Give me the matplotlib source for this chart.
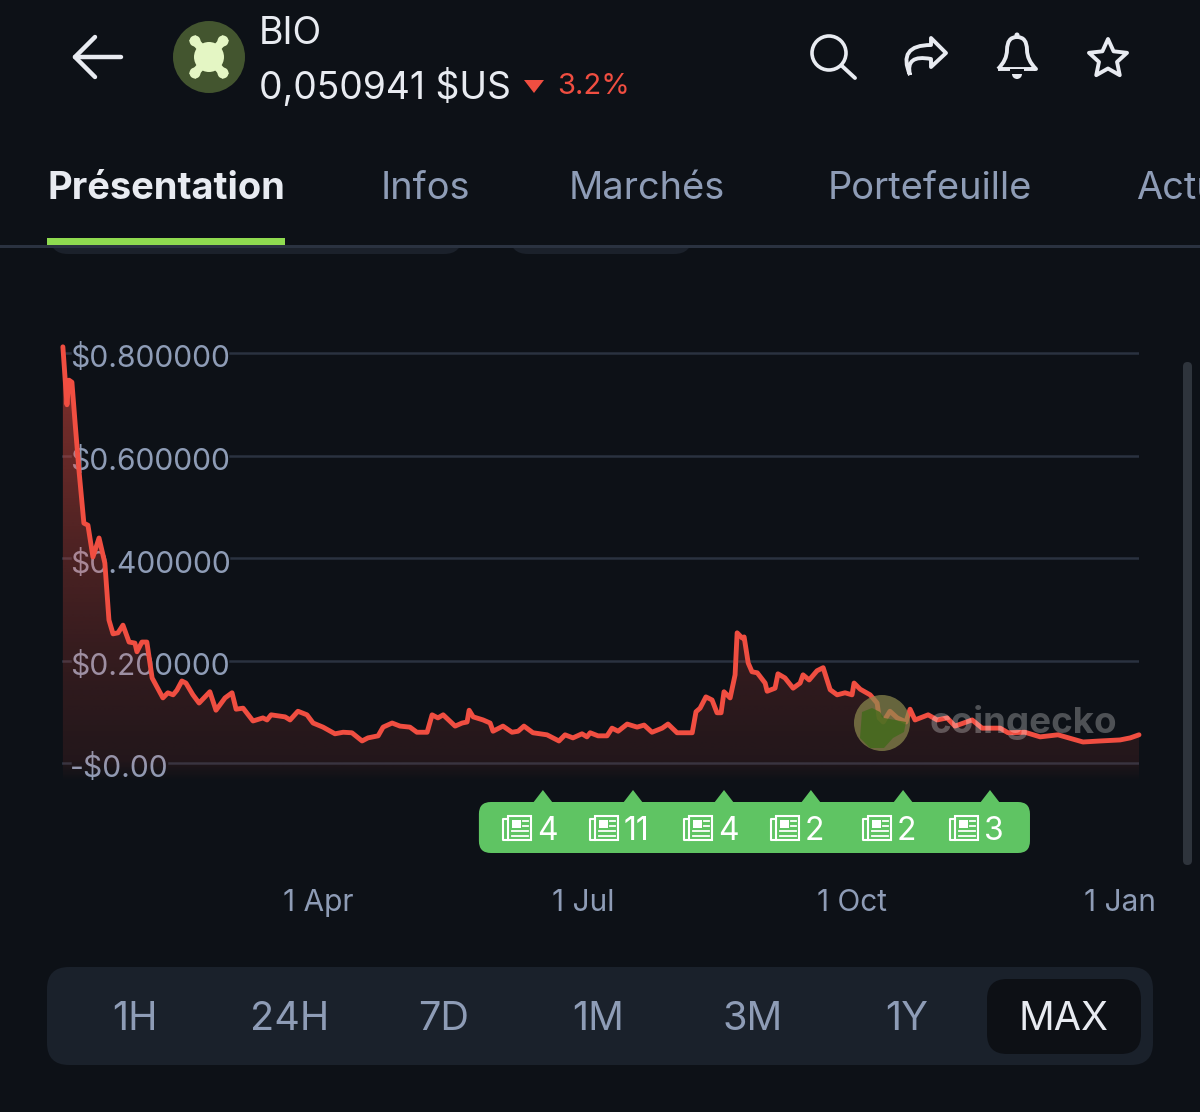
import math

import matplotlib
matplotlib.use("Agg")
import matplotlib.pyplot as plt
import numpy as np
from matplotlib.patches import Circle, FancyBboxPatch, PathPatch, Polygon, Rectangle
from matplotlib.path import Path
from matplotlib.transforms import Bbox, IdentityTransform, ScaledTranslation, TransformedBbox

plt.rcParams["font.family"] = ["Inter", "DejaVu Sans"]

# days since 1 Jan 2025
days = [2.5, 3.9, 4.6, 5.6, 6.7, 8.0, 9.7, 11.1, 12.8, 14.9, 16.9, 18.3, 19.7, 21.4, 23.1, 25.2, 27.2, 27.9,
        29.6, 31.3, 33.1, 34.8, 36.8, 38.5, 40.3, 41.6, 43.3, 44.7, 47.1, 49.2, 52.9, 55, 58.1, 60.5, 61.9,
        64.3, 67.7, 71.1, 72.5, 73.9, 78.7, 80.4, 83.1, 86.2, 88.3, 91.7, 95.8, 98.6, 101.6, 105.1, 107.1,
        110.6, 112.3, 115.4, 118.1, 121.5, 123.9, 127.4, 129.1, 131.1, 132.9, 137, 139.4, 141.1, 141.8,
        143.2, 146.6, 149, 150, 153.4, 156.5, 158.6, 160.6, 163.7, 168.5, 172.6, 174.7, 177.4, 180.5, 182.2,
        183.3, 186, 189.1, 190.8, 192.9, 196, 199.4, 201.8, 204.5, 208, 210, 213.1, 215.2, 218.3, 219.6,
        221, 223, 225.1, 226.8, 228.2, 229.2, 231.3, 233, 233.7, 235.4, 236.1, 237.5, 238.8, 240.6, 243.3,
        244, 246.7, 247.7, 250.1, 252.9, 255.3, 256.3, 258.4, 261.1, 263.2, 265.6, 268, 270.7, 273.1, 273.8,
        275.9, 279.3, 281.7, 282.4, 283.8, 286.1, 288.6, 291.6, 293, 294.7, 299.2, 302.3, 305.7, 308.4,
        314.3, 317.7, 323.9, 326.6, 332.4, 337.6, 343.7, 352.3, 358.2, 365, 368.5, 371.5]
prices = [.812, .699, .747, .743, .663, .572, .468, .464, .402, .439, .390, .279, .252, .254, .269, .236, .234, .217,
          .236, .236, .166, .148, .127, .137, .133, .142, .160, .156, .133, .117, .139, .103, .127, .137, .105,
          .107, .082, .088, .084, .094, .090, .084, .101, .094, .078, .070, .057, .060, .059, .043, .049,
          .053, .070, .078, .072, .070, .060, .060, .094, .088, .094, .072, .078, .080, .103,
          .090, .084, .078, .062, .072, .060, .062, .072, .059, .055, .043, .055, .049, .057, .051,
          .059, .053, .053, .068, .062, .076, .070, .074, .060, .068, .076, .059, .059, .059, .100,
          .107, .129, .123, .098, .098, .139, .127, .172, .254, .244, .246, .195, .178, .176, .156,
          .140, .146, .174, .166, .146, .156, .172, .162, .180, .186, .143, .133, .137, .133, .156,
          .144, .133, .117, .088, .080, .101, .088, .080, .105, .084, .094, .084, .088, .072,
          .084, .068, .068, .059, .060, .051, .055, .041, .043, .045, .049, .055]

y_ticks = [0, 0.2, 0.4, 0.6, 0.8]
y_labels = ["-$0.00", "$0.200000", "$0.400000", "$0.600000", "$0.800000"]
x_ticks = [90, 181, 273, 365]
x_labels = ["1 Apr", "1 Jul", "1 Oct", "1 Jan"]

news_days = [167.1, 198, 229.2, 259, 290.6, 320.4]
news_counts = ["4", "11", "4", "2", "2", "3"]

tabs = ["Présentation", "Infos", "Marchés", "Portefeuille", "Actu"]
tab_x = [47, 381, 569, 828, 1136]
ranges = ["1H", "24H", "7D", "1M", "3M", "1Y", "MAX"]
range_x = [135, 290, 444, 598, 753, 907, 1063]

BG = "#0d1117"
MUTED = "#8e9cb6"
WHITE = "#e8ebf1"
RED = "#f04e41"
GREEN = "#5fc463"
GRID = "#2a3240"

W, H = 1200, 1112
fig = plt.figure(figsize=(W / 100, H / 100), dpi=100, facecolor=BG)

# chart axes, 0 sits on pixel row 763 and 0.8 on row 353
top, bottom, left, right = 330, 790, 62, 1139
ax = fig.add_axes([left / W, 1 - bottom / H, (right - left) / W, (bottom - top) / H])
ax.set_facecolor("none")
ax.set_xlim(2.2, 371.5)
ax.set_ylim((763 - bottom) / 512.5, (763 - top) / 512.5)
for s in ax.spines.values():
    s.set_visible(False)

ax.set_yticks(y_ticks, y_labels)
ax.set_xticks(x_ticks, x_labels)
ax.tick_params(axis="y", length=0, pad=-5.8, labelsize=21.6, labelcolor=MUTED)
ax.tick_params(axis="x", length=0, pad=71, labelsize=21.5, labelcolor=MUTED)
for lab in ax.get_yticklabels():
    lab.set_ha("left")
    lab.set_transform(lab.get_transform() + ScaledTranslation(0, -3 / 100, fig.dpi_scale_trans))
    lab.set_zorder(6)
# the last date label is cut off at the edge of the chart box
for lab in ax.get_xticklabels():
    lab.set_clip_on(True)
    lab.set_clip_box(TransformedBbox(Bbox([[0, 0], [1154, H]]), IdentityTransform()))

# gridlines stop at the label boxes
fig.canvas.draw()
inv = ax.transAxes.inverted()
for val, lab in zip(y_ticks, ax.get_yticklabels()):
    ext = lab.get_window_extent()
    x0 = inv.transform((ext.x0, 0))[0]
    x1 = inv.transform((ext.x1, 0))[0]
    ax.plot([0, x0], [val, val], color=GRID, lw=1.8, transform=ax.get_yaxis_transform(), zorder=1)
    ax.plot([x1, 1], [val, val], color=GRID, lw=1.8, transform=ax.get_yaxis_transform(), zorder=1)

# area under the line, red fading out just below zero
y0, y1 = -0.04, 0.82
grad = np.zeros((256, 2, 4))
grad[..., :3] = matplotlib.colors.to_rgb("#f04e41")
t = np.linspace(1, 0, 256)[:, None]
grad[..., 3] = 0.09 + 0.45 * t ** 1.3
grad[-14:, :, 3] *= np.linspace(1, 0, 14)[:, None]
im = ax.imshow(grad, extent=[2.2, 371.5, y0, y1], aspect="auto", zorder=2, interpolation="bilinear")
area = ax.fill_between(days, prices, y0, color="none")
im.set_clip_path(area.get_paths()[0], ax.transData)
ax.set_xlim(2.2, 371.5)
ax.set_ylim((763 - bottom) / 512.5, (763 - top) / 512.5)

ax.plot(days, prices, color=RED, lw=3.5, solid_joinstyle="round", solid_capstyle="round", zorder=4, clip_on=False)

# everything else is drawn in pixel coordinates on a full size overlay
ui = fig.add_axes([0, 0, 1, 1], zorder=5)
ui.set_xlim(0, W)
ui.set_ylim(H, 0)
ui.axis("off")


def rounded(x0, y0, x1, y1, r, color, **kw):
    p = FancyBboxPatch((x0 + r, y0 + r), x1 - x0 - 2 * r, y1 - y0 - 2 * r, boxstyle=f"round,pad={r},rounding_size={r}",
                       fc=color, ec="none", **kw)
    ui.add_patch(p)
    return p


def news_icon(x, y):
    c = "white"
    ui.add_patch(Rectangle((x + 5, y), 23, 24, fc="none", ec=c, lw=1.5, zorder=6))
    ui.plot([x + 5, x, x, x + 5], [y + 3, y + 3, y + 24, y + 24], color=c, lw=1.5, zorder=6)
    ui.add_patch(Rectangle((x + 9, y + 4), 9, 8, fc=c, ec="none", zorder=6))
    for yy, x0 in [(y + 5, 20), (y + 10, 20), (y + 15, 9), (y + 20, 9)]:
        ui.plot([x + x0, x + 25], [yy, yy], color=c, lw=1.3, zorder=6)


# tabs and header
rounded(50, 215, 462, 254, 18, "#1b212b", zorder=1)
rounded(510, 215, 692, 254, 18, "#1b212b", zorder=1)
ui.add_patch(Rectangle((0, 0), W, 246, fc=BG, ec="none", zorder=2))
ui.add_patch(Rectangle((0, 245), W, 2.5, fc=GRID, ec="none", zorder=3))
ui.add_patch(Rectangle((47, 238), 238, 7, fc="#8fdb50", ec="none", zorder=4))
for name, x, i in zip(tabs, tab_x, range(len(tabs))):
    ui.text(x, 189, name, color=WHITE if i == 0 else MUTED, fontsize=27.4, va="center", ha="left",
            fontweight="bold" if i == 0 else "normal", zorder=4)

ui.text(259, 34, "BIO", color=WHITE, fontsize=27, va="center", zorder=4)
ui.text(259, 88, "0,050941 $US", color=WHITE, fontsize=26.8, va="center", zorder=4)
ui.add_patch(Polygon([(524, 80), (544, 80), (534, 93)], fc=RED, ec="none", zorder=4))
ui.text(557, 87, "3.2%", color=RED, fontsize=21, va="center", zorder=4)

# back arrow
ui.plot([75, 121], [57, 57], color=WHITE, lw=3.2, solid_capstyle="round", zorder=4)
ui.plot([95, 75, 95], [37, 57, 77], color=WHITE, lw=3.2, solid_capstyle="round", solid_joinstyle="round", zorder=4)

# token logo
ui.add_patch(Circle((209, 57), 36, fc="#43552f", ec="none", zorder=4))
splat = "#e4f6c4"
for dx, dy in [(-14, -16), (14, -16), (-14, 16), (14, 16)]:
    ui.plot([209, 209 + dx], [57, 57 + dy], color=splat, lw=6, zorder=4)
    ui.add_patch(Circle((209 + dx, 57 + dy), 5.5, fc=splat, ec="none", zorder=4))
ui.add_patch(Circle((209, 57), 15, fc=splat, ec="none", zorder=4))

# header icons
ui.add_patch(Circle((829, 53), 17, fc="none", ec=WHITE, lw=2.6, zorder=4))
ui.plot([842, 855], [66, 78], color=WHITE, lw=2.8, solid_capstyle="round", zorder=4)

share = Path([(910, 75), (897, 45), (931, 45), (931, 38), (946, 53), (931, 67), (931, 59), (905, 54), (910, 75)],
             [Path.MOVETO, Path.CURVE3, Path.CURVE3, Path.LINETO, Path.LINETO, Path.LINETO, Path.LINETO, Path.CURVE3,
              Path.CURVE3])
ui.add_patch(PathPatch(share, fc="none", ec=WHITE, lw=2.8, joinstyle="round", zorder=4))

bell = Path([(998, 69), (1007, 60), (1007, 50), (1007, 37), (1017, 37), (1027, 37), (1027, 50), (1027, 60),
             (1036, 69), (998, 69)],
            [Path.MOVETO, Path.CURVE3, Path.CURVE3, Path.CURVE3, Path.CURVE3, Path.CURVE3, Path.CURVE3, Path.CURVE3,
             Path.CURVE3, Path.LINETO])
ui.add_patch(PathPatch(bell, fc="none", ec=WHITE, lw=2.8, joinstyle="round", zorder=4))
ui.add_patch(Circle((1017, 35), 2.5, fc=WHITE, ec="none", zorder=4))
ui.add_patch(Circle((1017, 74), 5, fc=WHITE, ec="none", zorder=4))
ui.add_patch(Rectangle((1010, 69), 14, 5, fc=BG, ec="none", zorder=4))

star = []
for k in range(10):
    r = 20 if k % 2 == 0 else 9.5
    a = -math.pi / 2 + k * math.pi / 5
    star.append((1108 + r * math.cos(a), 59 + r * math.sin(a)))
ui.add_patch(Polygon(star, fc="none", ec=WHITE, lw=2.8, joinstyle="round", zorder=4))

# coingecko watermark
ui.add_patch(Circle((882, 723), 28, fc="#8d8a4e", ec="none", alpha=0.7, zorder=5))
blob = Polygon([(862, 712), (872, 708), (880, 712), (884, 718), (895, 720), (906, 722), (904, 732), (893, 738),
                (884, 748), (870, 748), (860, 738)], fc="#3d6a18", ec="none", alpha=0.75, zorder=5)
ui.add_patch(blob)
ui.text(1023, 722, "coingecko", color="white", alpha=0.27, fontsize=26.5, fontweight="bold", ha="center", va="center",
        zorder=5)

# news badges
news_x = [ax.transData.transform((d, 0))[0] for d in news_days]
rounded(news_x[0] - 64, 802, news_x[-1] + 40, 853, 12, GREEN, zorder=3)
for x, n in zip(news_x, news_counts):
    ui.add_patch(Polygon([(x - 10, 803), (x, 790), (x + 10, 803)], fc=GREEN, ec="none", zorder=3))
    ix = x - 40 if n != "11" else x - 43
    news_icon(ix, 816)
    ui.text(ix + 34, 831, n, color="white", fontsize=23, va="center", ha="left", zorder=6)

# range selector
rounded(47, 967, 1153, 1065, 22, "#1a212b", zorder=1)
rounded(987, 979, 1141, 1054, 20, "#0d1015", zorder=2)
for name, x in zip(ranges, range_x):
    ui.text(x, 1020, name, color=WHITE if name == "MAX" else MUTED, fontsize=28.5, ha="center", va="center", zorder=3)

# scroll bar
rounded(1183, 362, 1192, 865, 4.5, "#2e343c", zorder=1)

plt.savefig("out.png", dpi=100, facecolor=BG)
